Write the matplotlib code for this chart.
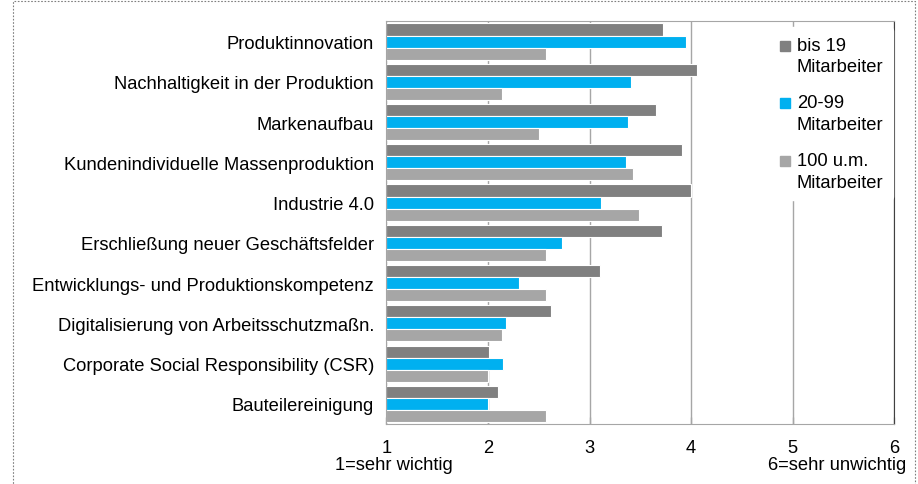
import matplotlib.pyplot as plt
import numpy as np
from matplotlib.patches import Rectangle
from matplotlib.lines import Line2D
from matplotlib.legend_handler import HandlerLine2D

plt.rcParams['font.family'] = ['Liberation Sans', 'DejaVu Sans']

# Data (1 = sehr wichtig, 6 = sehr unwichtig)
categories = [
    'Produktinnovation',
    'Nachhaltigkeit in der Produktion',
    'Markenaufbau',
    'Kundenindividuelle Massenproduktion',
    'Industrie 4.0',
    'Erschließung neuer Geschäftsfelder',
    'Entwicklungs- und Produktionskompetenz',
    'Digitalisierung von Arbeitsschutzmaßn.',
    'Corporate Social Responsibility (CSR)',
    'Bauteilereinigung',
]
bis_19 = [3.72, 4.06, 3.65, 3.91, 4.00, 3.71, 3.10, 2.62, 2.01, 2.10]
von_20_99 = [3.95, 3.41, 3.38, 3.36, 3.11, 2.73, 2.31, 2.18, 2.15, 2.00]
ab_100 = [2.57, 2.14, 2.50, 3.43, 3.49, 2.57, 2.57, 2.14, 2.00, 2.57]

series_labels = ['bis 19\nMitarbeiter', '20-99\nMitarbeiter', '100 u.m.\nMitarbeiter']
colors = ['#808080', '#00B0F0', '#A6A6A6']
x_ticks = [1, 2, 3, 4, 5, 6]

fs = 13.2


class FirstLineHandler(HandlerLine2D):
    # put the marker next to the first line of a two-line label
    def create_artists(self, legend, orig_handle, xdescent, ydescent,
                       width, height, fontsize, trans):
        artists = super().create_artists(legend, orig_handle, xdescent, ydescent,
                                         width, height, fontsize, trans)
        for a in artists:
            a.set_ydata(np.asarray(a.get_ydata()) + 7.5)
        return artists


fig = plt.figure(figsize=(9.18, 4.85), dpi=100)
ax = fig.add_axes([0.421, 0.1237, 0.553, 0.83])

y = np.arange(len(categories))
h = 0.3
for i, (vals, col) in enumerate(zip([bis_19, von_20_99, ab_100], colors)):
    ax.barh(y + (i - 1) * h, np.array(vals) - 1, left=1, height=h,
            color=col, edgecolor='white', linewidth=0.8, zorder=2)

ax.set_xlim(1, 6)
ax.set_ylim(len(categories) - 0.5, -0.5)
ax.set_xticks(x_ticks)
ax.set_yticks(y)
ax.set_yticklabels(categories)
ax.xaxis.grid(True, color='#A6A6A6', linewidth=1, zorder=0)
ax.set_axisbelow(True)

ax.tick_params(axis='y', length=0, pad=9, labelsize=fs, colors='#000000')
ax.tick_params(axis='x', direction='in', length=5, width=1, color='#A6A6A6',
               pad=11, labelsize=fs)

for side in ['left', 'bottom', 'top']:
    ax.spines[side].set_color('#A6A6A6')
ax.spines['right'].set_color('#404040')

handles = [Line2D([], [], marker='s', linestyle='none', markersize=7,
                  markerfacecolor=c, markeredgecolor=c) for c in colors]
leg = ax.legend(handles, series_labels, loc='upper right',
                bbox_to_anchor=(0.997, 0.985), frameon=True, fontsize=fs,
                handlelength=0.6, handletextpad=0.35, labelspacing=1.05,
                borderpad=0.5, borderaxespad=0,
                handler_map={Line2D: FirstLineHandler()})
leg.get_frame().set_facecolor('white')
leg.get_frame().set_edgecolor('white')
leg.get_frame().set_alpha(1)
for t in leg.get_texts():
    t.set_linespacing(1.35)

fig.text(335 / 918, 1 - 466 / 485, '1=sehr wichtig', fontsize=fs,
         ha='left', va='center')
fig.text(906 / 918, 1 - 466 / 485, '6=sehr unwichtig', fontsize=fs,
         ha='right', va='center')

# dotted frame around the figure
fig.patches.append(Rectangle((13 / 918, -0.01), 902 / 918, 1 - 2 / 485 + 0.01,
                             transform=fig.transFigure, fill=False,
                             edgecolor='#7F7F7F', linewidth=0.8,
                             linestyle=(0, (1.5, 1.5))))

fig.savefig('out.png', dpi=100)
